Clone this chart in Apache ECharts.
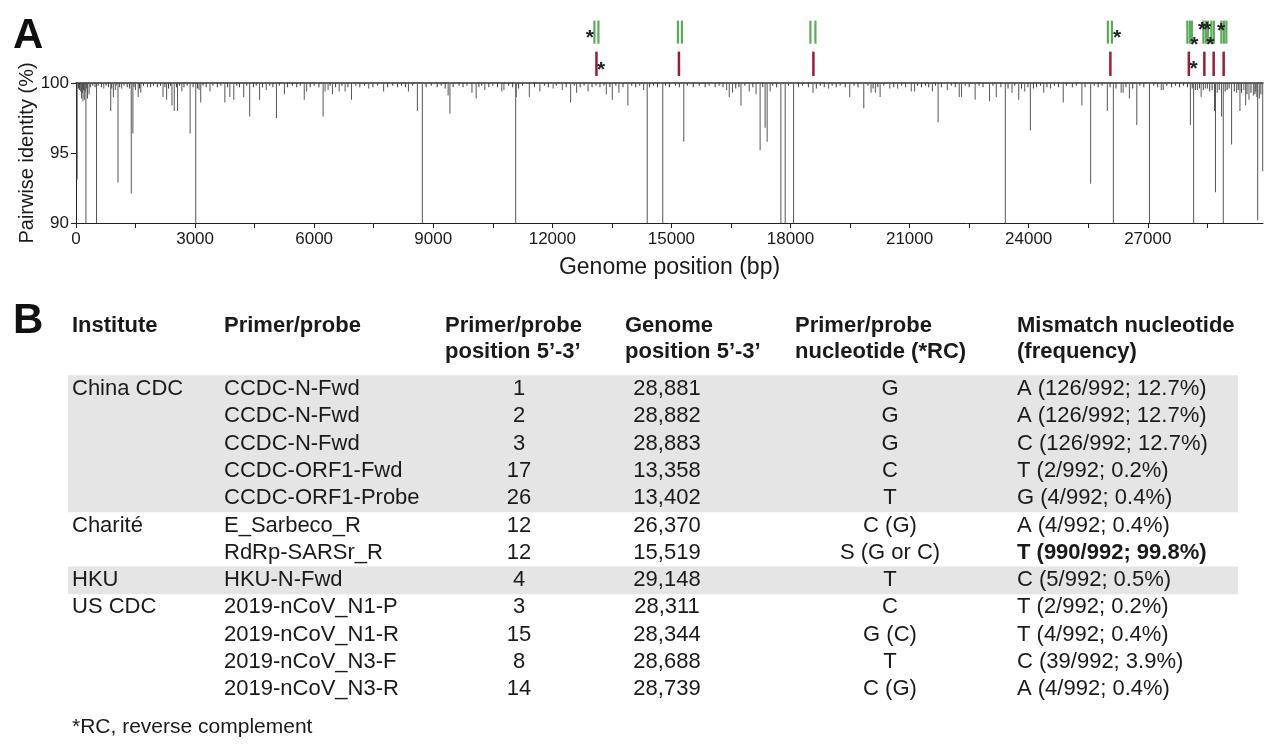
<!DOCTYPE html>
<html><head><meta charset="utf-8">
<script src="https://cdn.jsdelivr.net/npm/echarts@6/dist/echarts.min.js"></script>
<style>html,body{margin:0;padding:0;background:#fff;}#chart{width:1280px;height:746px;}</style>
</head><body><div id="chart"></div>
<script>
// ---------- Panel A data ----------
const genomeLength = 29903;
const xTickLabels = [0, 3000, 6000, 9000, 12000, 15000, 18000, 21000, 24000, 27000];
const xTickMarks = [0,1500,3000,4500,6000,7500,9000,10500,12000,13500,15000,16500,18000,19500,21000,22500,24000,25500,27000,28500];
const yTickLabels = [100, 95, 90];
// [genome position (bp), pairwise identity (%)] ; 90 = reaches the bottom of the axis
const majorDips = [
[30,93.1],[140,98.9],[175,98.7],[210,98.8],[250,90],[290,98.9],[330,99.2],[517,90],[700,99.6],[875,98.0],[941,99.0],[990,99.5],[1058,92.9],[1150,99.6],[1392,92.1],[1433,96.4],[1500,99.5],[1567,99.0],[1633,99.3],[1800,99.7],[2192,99.0],[2283,98.8],[2417,98.4],[2475,98.0],[2558,98.0],[2667,99.4],[2875,96.4],[3017,90],[3100,99.5],[3142,98.6],[3375,99.4],[3750,98.6],[3875,99.0],[3975,98.8],[4225,99.0],[4375,97.6],[4625,98.8],[4792,99.5],
[5050,97.5],[5250,99.2],[5750,98.8],[5810,99.4],[6225,97.6],[6275,99.4],[6350,99.5],[6460,99.2],[6630,99.4],[6780,99.4],[6940,98.8],[7375,99.6],[7750,99.4],[8375,99.4],[8600,98.0],[8725,90],[9375,99.1],[9420,97.8],[9975,99.3],
[10080,98.9],[10300,99.5],[10726,99.4],[10780,99.5],[11077,90],[11090,99.0],[11420,99.0],[11687,99.4],[12021,99.6],[12250,99.5],[12461,98.6],[12612,99.3],[12900,99.4],[13360,99.2],[13510,98.8],[13677,99.3],[13903,98.4],[14300,99.5],[14390,90],[14782,90],
[15311,95.8],[16391,99.5],[16457,99.0],[16540,99.3],[16753,98.4],[16960,99.4],[17133,99.2],[17234,95.2],[17360,96.8],[17411,95.8],[17487,99.4],[17757,90],[17866,90],[18077,90],[18567,99.3],[18960,99.6],[19492,99.0],[19846,98.2],
[20029,99.3],[20138,99.3],[20257,99.0],[20500,99.6],[20700,99.6],[21042,99.4],[21127,99.4],[21575,99.4],[21718,97.2],[21950,99.5],[22250,99.0],[22309,99.0],[22651,98.8],[23014,98.7],[23183,99.0],[23411,90],[23580,99.3],[23749,98.8],[23900,99.4],[24042,96.6],[24380,99.3],[24550,99.6],[24870,98.6],
[25341,98.4],[25561,92.8],[25981,98.0],[26133,90],[26330,99.3],[26380,99.3],[26537,98.9],[26724,97.0],[27043,90],[27340,99.5],[27390,99.5],[28073,97.0],[28156,90],[28250,99.5],[28345,99.0],[28450,99.6],[28681,98.0],[28706,92.2],[28750,99.3],[28859,97.6],[28902,90],[29112,95.6],[29240,99.3],[29322,98.0],[29420,99.5],[29466,98.4],[29550,98.8],[29660,99.1],[29720,99.4],[29769,90.2],[29810,98.9],[29895,93.7]
];
const minorDips = [
[60,99.6],[90,99.5],[120,99.4],[160,99.3],[190,99.5],[230,99.4],[270,99.6],[360,99.7],[420,99.8],[480,99.7],[560,99.8],[640,99.7],[760,99.8],[820,99.7],[900,99.6],[1010,99.8],[1100,99.7],[1210,99.8],[1290,99.7],[1350,99.6],[1460,99.7],[1600,99.6],[1700,99.8],[1880,99.7],[1950,99.8],[2050,99.7],[2130,99.8],[2240,99.7],[2330,99.6],[2380,99.8],[2530,99.7],[2610,99.8],[2720,99.7],[2800,99.8],[2950,99.7],[3060,99.6],[3200,99.8],[3280,99.7],[3450,99.8],[3560,99.7],[3650,99.8],[3820,99.7],[4050,99.8],[4120,99.7],[4300,99.8],[4470,99.7],[4540,99.8],[4700,99.7],[4880,99.8],[4960,99.7],
[5120,99.8],[5330,99.7],[5450,99.8],[5560,99.7],[5650,99.8],[5900,99.7],[6000,99.8],[6120,99.7],[6400,99.8],[6540,99.7],[6700,99.8],[6850,99.7],[7050,99.8],[7150,99.7],[7270,99.8],[7480,99.7],[7600,99.8],[7850,99.7],[7980,99.8],[8100,99.7],[8200,99.8],[8300,99.7],[8480,99.8],[8820,99.7],[8950,99.8],[9100,99.7],[9200,99.8],[9300,99.6],[9500,99.7],[9650,99.8],[9750,99.7],[9850,99.8],
[10150,99.7],[10220,99.8],[10400,99.7],[10500,99.8],[10620,99.7],[10900,99.8],[11000,99.7],[11150,99.6],[11250,99.8],[11550,99.7],[11800,99.8],[11900,99.7],[12100,99.8],[12350,99.7],[12550,99.8],[12700,99.7],[12800,99.8],[13000,99.7],[13100,99.8],[13200,99.7],[13300,99.8],[13450,99.7],[13600,99.8],[13780,99.7],[14000,99.8],[14100,99.7],[14200,99.8],[14450,99.7],[14550,99.8],[14650,99.7],[14850,99.8],[14950,99.7],
[15100,99.8],[15200,99.7],[15400,99.8],[15550,99.7],[15700,99.8],[15850,99.7],[15950,99.8],[16100,99.7],[16200,99.8],[16300,99.7],[16620,99.6],[16700,99.7],[16850,99.8],[17050,99.7],[17300,99.7],[17550,99.8],[17650,99.7],[17950,99.8],[18200,99.7],[18300,99.8],[18450,99.7],[18650,99.6],[18750,99.8],[18850,99.7],[19050,99.8],[19150,99.7],[19250,99.8],[19380,99.7],[19600,99.8],[19700,99.7],[19950,99.8],
[20080,99.6],[20200,99.7],[20350,99.8],[20600,99.7],[20800,99.8],[20900,99.7],[21200,99.8],[21300,99.7],[21400,99.8],[21480,99.7],[21650,99.8],[21800,99.7],[22050,99.8],[22150,99.7],[22400,99.8],[22500,99.7],[22750,99.8],[22850,99.7],[23100,99.8],[23300,99.7],[23480,99.6],[23650,99.8],[23820,99.6],[23980,99.7],[24120,99.6],[24200,99.7],[24300,99.8],[24460,99.7],[24650,99.8],[24750,99.7],[24950,99.8],
[25100,99.7],[25200,99.8],[25420,99.7],[25650,99.8],[25750,99.7],[25850,99.8],[26050,99.7],[26200,99.6],[26450,99.7],[26620,99.6],[26800,99.8],[26900,99.7],[27150,99.8],[27250,99.7],[27480,99.8],[27600,99.7],[27700,99.8],[27800,99.7],[27900,99.8],[28000,99.7],[28120,99.6],[28200,99.5],[28300,99.6],[28400,99.5],[28500,99.6],[28560,99.4],[28620,99.5],[28800,99.5],[28950,99.4],[29000,99.5],[29050,99.6],[29180,99.4],[29280,99.5],[29360,99.3],[29500,99.2],[29600,99.3],[29700,99.2],[29750,99.0],[29850,99.2]
];
// primer / probe locations as drawn above the plot (bp)
const primerLines = [13060,13161,15164,15264,18501,18627,25995,26096,27997,28060,28111,28401,28463,28514,28602,28665,28854,28917,28980];
const probeLines = [13111,15189,18577,26058,28035,28426,28660,28912];
// asterisks (reverse complement): [bp, row level]
const primerStars = [[12942,2.9],[26227,2.9],[28174,3.9],[28368,1.7],[28494,1.7],[28577,4.0],[28847,1.8]];
const probeStars = [[13229,7.7],[28156,7.6]];

// ---------- Panel B data ----------
const headerLine1 = ['Institute','Primer/probe','Primer/probe','Genome','Primer/probe','Mismatch nucleotide'];
const headerLine2 = ['','','position 5\u2019-3\u2019','position 5\u2019-3\u2019','nucleotide (*RC)','(frequency)'];
const institutes = ['China CDC','','','','','Charit\u00e9','','HKU','US CDC','','',''];
const primers = ['CCDC-N-Fwd','CCDC-N-Fwd','CCDC-N-Fwd','CCDC-ORF1-Fwd','CCDC-ORF1-Probe','E_Sarbeco_R','RdRp-SARSr_R','HKU-N-Fwd','2019-nCoV_N1-P','2019-nCoV_N1-R','2019-nCoV_N3-F','2019-nCoV_N3-R'];
const primerPositions = ['1','2','3','17','26','12','12','4','3','15','8','14'];
const genomePositions = ['28,881','28,882','28,883','13,358','13,402','26,370','15,519','29,148','28,311','28,344','28,688','28,739'];
const nucleotides = ['G','G','G','C','T','C (G)','S (G or C)','T','C','G (C)','T','C (G)'];
const mismatches = ['A (126/992; 12.7%)','A (126/992; 12.7%)','C (126/992; 12.7%)','T (2/992; 0.2%)','G (4/992; 0.4%)','A (4/992; 0.4%)','T (990/992; 99.8%)','C (5/992; 0.5%)','T (2/992; 0.2%)','T (4/992; 0.4%)','C (39/992; 3.9%)','A (4/992; 0.4%)'];
const boldMismatch = [false,false,false,false,false,false,true,false,false,false,false,false];
const shadedRows = [0,1,2,3,4,7];
const footnote = '*RC, reverse complement';

// ---------- build ----------
const FF = '"Liberation Sans", Arial, Helvetica, sans-serif';
const TXT = '#1a1a1a';
const chart = echarts.init(document.getElementById('chart'));

const GREEN_TOP = 1.0, GREEN_BOT = 4.5, RED_TOP = 5.7, RED_BOT = 9.4;

function lineRenderer(color, width) {
  return function (params, api) {
    const p1 = api.coord([api.value(0), api.value(1)]);
    const p2 = api.coord([api.value(0), api.value(2)]);
    return { type: 'line', shape: { x1: p1[0], y1: p1[1], x2: p2[0], y2: p2[1] },
      style: { stroke: color, lineWidth: width } };
  };
}
function starRenderer(params, api) {
  const p = api.coord([api.value(0), api.value(1)]);
  return { type: 'text', x: p[0], y: p[1] + 5,
    style: { text: '*', font: 'bold 21px ' + FF, fill: '#222', align: 'center', verticalAlign: 'middle' } };
}

// table graphics
const COLX = [72, 224, 445, 625, 795, 1017];
const DATAX = [72, 224, 519, 667, 890, 1017];
const DATAALIGN = ['left','left','center','center','center','left'];
const H1Y = 326, H2Y = 352, ROW0 = 389, ROWH = 27.3;
const graphics = [];
graphics.push({ type: 'text', x: 13, y: 15, style: { text: 'A', font: 'bold 42px ' + FF, fill: '#111' } });
graphics.push({ type: 'text', x: 13, y: 300, style: { text: 'B', font: 'bold 42px ' + FF, fill: '#111' } });
shadedRows.forEach(r => {
  graphics.push({ type: 'rect', shape: { x: 68, y: ROW0 + r * ROWH - ROWH / 2, width: 1170, height: ROWH + 0.5 },
    style: { fill: '#e5e5e5' }, z: 0 });
});
headerLine1.forEach((t, i) => {
  graphics.push({ type: 'text', x: COLX[i], y: H1Y, z: 2, style: { text: t, font: 'bold 22px ' + FF, fill: TXT, align: 'left', verticalAlign: 'middle' } });
  if (headerLine2[i]) graphics.push({ type: 'text', x: COLX[i], y: H2Y, z: 2, style: { text: headerLine2[i], font: 'bold 22px ' + FF, fill: TXT, align: 'left', verticalAlign: 'middle' } });
});
const cols = [institutes, primers, primerPositions, genomePositions, nucleotides, mismatches];
for (let r = 0; r < primers.length; r++) {
  cols.forEach((col, c) => {
    const t = col[r];
    if (!t) return;
    const bold = c === 5 && boldMismatch[r];
    graphics.push({ type: 'text', x: DATAX[c], y: ROW0 + r * ROWH, z: 2,
      style: { text: t, font: (bold ? 'bold ' : '') + '22px ' + FF, fill: TXT, align: DATAALIGN[c], verticalAlign: 'middle' } });
  });
}
graphics.push({ type: 'text', x: 72, y: 727, z: 2, style: { text: footnote, font: '21px ' + FF, fill: TXT, align: 'left', verticalAlign: 'middle' } });

const option = {
  animation: false,
  backgroundColor: '#fff',
  textStyle: { fontFamily: FF },
  grid: [
    { left: 76, right: 17, top: 83, height: 140 },
    { left: 76, right: 17, top: 14, height: 66 }
  ],
  xAxis: [
    { gridIndex: 0, type: 'value', min: 0, max: genomeLength, interval: 1500,
      name: 'Genome position (bp)', nameLocation: 'middle', nameGap: 33,
      nameTextStyle: { fontSize: 23, color: TXT, fontFamily: FF },
      axisLine: { show: true, onZero: false, lineStyle: { color: '#222', width: 1 } },
      axisTick: { show: true, length: 5, lineStyle: { color: '#222' }, customValues: xTickMarks },
      axisLabel: { fontSize: 17, color: TXT, margin: 8, customValues: xTickLabels,
        formatter: v => (xTickLabels.indexOf(v) >= 0 ? String(v) : '') },
      splitLine: { show: false } },
    { gridIndex: 0, type: 'value', position: 'top', min: 0, max: genomeLength,
      axisLine: { show: true, onZero: false, lineStyle: { color: '#333', width: 1.5 } },
      axisTick: { show: false }, axisLabel: { show: false }, splitLine: { show: false } },
    { gridIndex: 1, type: 'value', min: 0, max: genomeLength, show: false, splitLine: { show: false } }
  ],
  yAxis: [
    { gridIndex: 0, type: 'value', inverse: true, min: 0, max: 10, interval: 5,
      name: 'Pairwise identity (%)', nameLocation: 'middle', nameGap: 39, nameMoveOverlap: false,
      nameTextStyle: { fontSize: 20, color: TXT, fontFamily: FF },
      axisLine: { show: true, lineStyle: { color: '#222', width: 1 } },
      axisTick: { show: true, length: 5, lineStyle: { color: '#222' } },
      axisLabel: { fontSize: 17, color: TXT, margin: 7,
        formatter: v => { const t = 100 - v; return yTickLabels.indexOf(t) >= 0 ? String(t) : ''; } },
      splitLine: { show: false } },
    { gridIndex: 1, type: 'value', inverse: true, min: 0, max: 10, show: false, splitLine: { show: false } }
  ],
  series: [
    { type: 'bar', xAxisIndex: 0, yAxisIndex: 0, barWidth: 1, barGap: '-100%', silent: true,
      itemStyle: { color: '#3c3c3c' }, data: minorDips.map(d => [d[0], +(100 - d[1]).toFixed(2)]) },
    { type: 'bar', xAxisIndex: 0, yAxisIndex: 0, barWidth: 1, barGap: '-100%', silent: true,
      itemStyle: { color: '#555555' }, data: majorDips.map(d => [d[0], +(100 - d[1]).toFixed(2)]) },
    { type: 'custom', xAxisIndex: 2, yAxisIndex: 1, silent: true, renderItem: lineRenderer('#5aac58', 2.2),
      data: primerLines.map(p => [p, GREEN_TOP, GREEN_BOT]) },
    { type: 'custom', xAxisIndex: 2, yAxisIndex: 1, silent: true, renderItem: lineRenderer('#9a1d35', 2.5),
      data: probeLines.map(p => [p, RED_TOP, RED_BOT]) },
    { type: 'custom', xAxisIndex: 2, yAxisIndex: 1, silent: true, renderItem: starRenderer,
      data: primerStars.concat(probeStars) }
  ],
  graphic: graphics
};
chart.setOption(option);
</script>
</body></html>
